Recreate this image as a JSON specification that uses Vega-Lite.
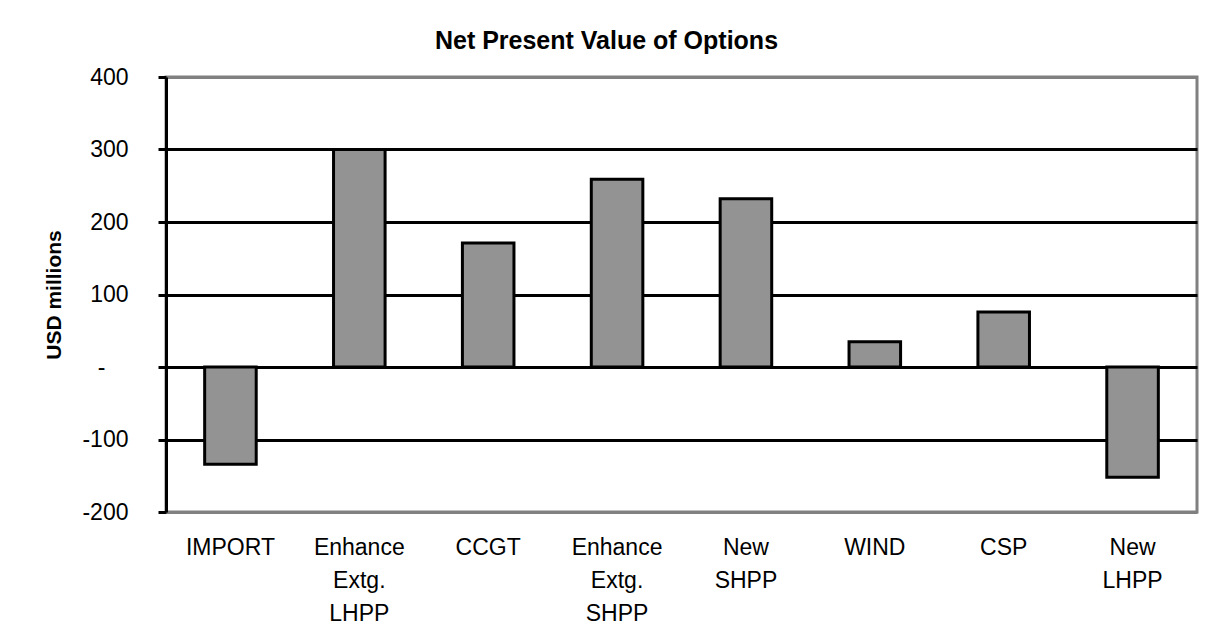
{
  "$schema": "https://vega.github.io/schema/vega-lite/v6.json",
  "width": 1031,
  "height": 435,
  "autosize": {"type": "none"},
  "padding": {"left": 166, "top": 77, "right": 18, "bottom": 121},
  "background": "white",
  "title": {
    "text": "Net Present Value of Options",
    "fontSize": 25,
    "font": "Liberation Sans",
    "fontWeight": "bold",
    "color": "black",
    "anchor": "middle",
    "frame": "bounds",
    "dx": -14,
    "offset": 12
  },
  "data": {
    "values": [
      {"option": "IMPORT", "npv": -134},
      {"option": "Enhance Extg. LHPP", "npv": 300},
      {"option": "CCGT", "npv": 171},
      {"option": "Enhance Extg. SHPP", "npv": 259},
      {"option": "New SHPP", "npv": 232},
      {"option": "WIND", "npv": 35},
      {"option": "CSP", "npv": 76},
      {"option": "New LHPP", "npv": -152}
    ]
  },
  "mark": {"type": "bar", "fill": "#939393", "stroke": "black", "strokeWidth": 3},
  "encoding": {
    "x": {
      "field": "option",
      "type": "nominal",
      "sort": null,
      "scale": {"paddingInner": 0.6, "paddingOuter": 0.3},
      "axis": {
        "title": null,
        "labelAngle": 0,
        "labelExpr": "split(datum.label, ' ')",
        "ticks": false,
        "tickSize": 0,
        "domain": false,
        "labelPadding": 24,
        "labelBaseline": "top",
        "labelLineHeight": 33,
        "labelFontSize": 23,
        "labelFont": "Liberation Sans",
        "labelColor": "black"
      }
    },
    "y": {
      "field": "npv",
      "type": "quantitative",
      "scale": {"domain": [-200, 400], "nice": false, "zero": true},
      "axis": {
        "title": "USD millions",
        "titleFontSize": 21,
        "titleFont": "Liberation Sans",
        "titleFontWeight": "bold",
        "titleColor": "black",
        "titlePadding": 17,
        "values": [-200, -100, 0, 100, 200, 300, 400],
        "labelExpr": "datum.value == 0 ? '-' : '' + datum.value",
        "labelFontSize": 23,
        "labelFont": "Liberation Sans",
        "labelColor": "black",
        "labelPadding": {"condition": {"test": "datum.value == 0", "value": 53}, "value": 30},
        "tickSize": 8,
        "tickWidth": 3,
        "tickColor": "black",
        "domainColor": "black",
        "domainWidth": 3,
        "grid": true,
        "gridColor": {"condition": {"test": "datum.value == 400 || datum.value == -200", "value": "#808080"}, "value": "black"},
        "gridWidth": 3
      }
    }
  },
  "config": {"view": {"stroke": "#808080", "strokeWidth": 3}}
}
